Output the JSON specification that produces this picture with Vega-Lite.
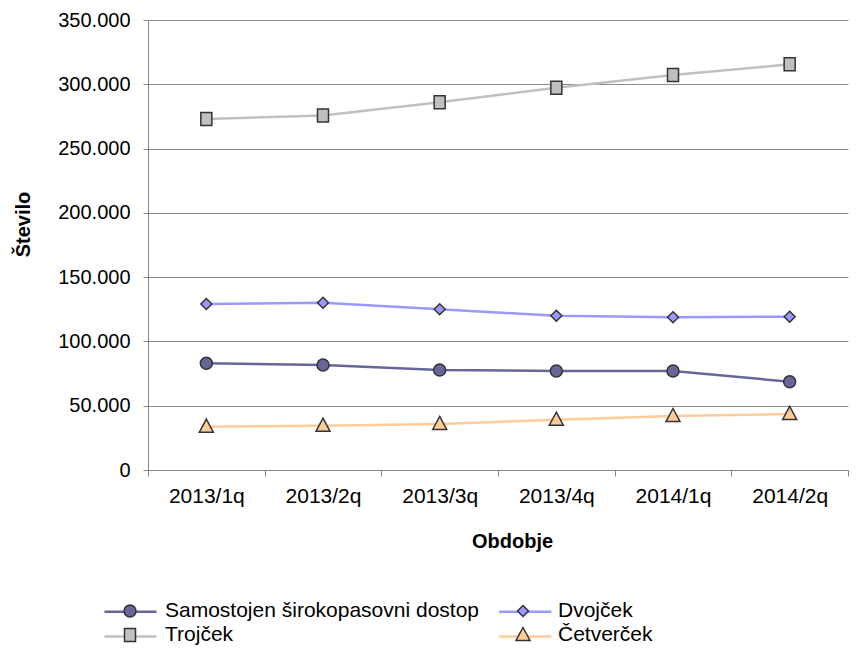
{
  "$schema": "https://vega.github.io/schema/vega-lite/v6.json",
  "width": 700,
  "height": 450,
  "autosize": "none",
  "padding": {"left": 148, "top": 20, "right": 20, "bottom": 184},
  "background": "white",
  "config": {
    "view": {"stroke": null},
    "font": "Liberation Sans",
    "axis": {
      "labelFont": "Liberation Sans",
      "titleFont": "Liberation Sans",
      "labelFontSize": 20,
      "titleFontSize": 20,
      "labelColor": "#000000",
      "titleColor": "#000000",
      "titleFontWeight": "bold",
      "domainColor": "#868686",
      "tickColor": "#868686",
      "gridColor": "#8c8c8c",
      "gridOpacity": 1
    },
    "legend": {
      "labelFont": "Liberation Sans",
      "labelFontSize": 21,
      "labelColor": "#000000",
      "labelLimit": 0
    }
  },
  "data": {
    "values": [
      {"period": "2013/1q", "series": "Samostojen širokopasovni dostop", "value": 83000},
      {"period": "2013/2q", "series": "Samostojen širokopasovni dostop", "value": 81700},
      {"period": "2013/3q", "series": "Samostojen širokopasovni dostop", "value": 77800},
      {"period": "2013/4q", "series": "Samostojen širokopasovni dostop", "value": 77000},
      {"period": "2014/1q", "series": "Samostojen širokopasovni dostop", "value": 77000},
      {"period": "2014/2q", "series": "Samostojen širokopasovni dostop", "value": 68700},
      {"period": "2013/1q", "series": "Dvojček", "value": 129100},
      {"period": "2013/2q", "series": "Dvojček", "value": 130100},
      {"period": "2013/3q", "series": "Dvojček", "value": 125000},
      {"period": "2013/4q", "series": "Dvojček", "value": 120000},
      {"period": "2014/1q", "series": "Dvojček", "value": 118800},
      {"period": "2014/2q", "series": "Dvojček", "value": 119200},
      {"period": "2013/1q", "series": "Trojček", "value": 273000},
      {"period": "2013/2q", "series": "Trojček", "value": 275800},
      {"period": "2013/3q", "series": "Trojček", "value": 286000},
      {"period": "2013/4q", "series": "Trojček", "value": 297300},
      {"period": "2014/1q", "series": "Trojček", "value": 307200},
      {"period": "2014/2q", "series": "Trojček", "value": 315500},
      {"period": "2013/1q", "series": "Četverček", "value": 33700},
      {"period": "2013/2q", "series": "Četverček", "value": 34500},
      {"period": "2013/3q", "series": "Četverček", "value": 35800},
      {"period": "2013/4q", "series": "Četverček", "value": 39100},
      {"period": "2014/1q", "series": "Četverček", "value": 42000},
      {"period": "2014/2q", "series": "Četverček", "value": 43600}
    ]
  },
  "encoding": {
    "x": {
      "field": "period",
      "type": "ordinal",
      "scale": {"type": "band", "paddingInner": 0, "paddingOuter": 0},
      "axis": {
        "title": "Obdobje",
        "tickBand": "extent",
        "grid": false,
        "labelAngle": 0,
        "labelFontSize": 21,
        "tickSize": 6,
        "labelPadding": 9,
        "titleX": 364,
        "titleY": 71,
        "titleBaseline": "middle",
        "titleAlign": "center"
      }
    },
    "y": {
      "field": "value",
      "type": "quantitative",
      "scale": {"domain": [0, 350000], "nice": false},
      "axis": {
        "title": "Število",
        "values": [0, 50000, 100000, 150000, 200000, 250000, 300000, 350000],
        "labelExpr": "replace(format(datum.value, ','), ',', '.')",
        "tickSize": 5,
        "labelPadding": 13,
        "grid": true,
        "titleAngle": -90,
        "titleX": -125,
        "titleY": 204,
        "titleBaseline": "middle",
        "titleAlign": "center"
      }
    }
  },
  "layer": [
    {
      "mark": {"type": "line", "strokeWidth": 2.5},
      "encoding": {
        "color": {
          "field": "series",
          "type": "nominal",
          "scale": {
            "domain": ["Četverček", "Trojček", "Dvojček", "Samostojen širokopasovni dostop"],
            "range": ["#FFCC99", "#C0C0C0", "#9999FF", "#666699"]
          },
          "legend": {
            "orient": "none",
            "direction": "horizontal",
            "legendX": -29,
            "legendY": 580,
            "columns": 2,
            "columnPadding": 327.75,
            "rowPadding": 3,
            "padding": 0,
            "title": null,
            "zindex": 0,
            "values": ["Samostojen širokopasovni dostop", "Dvojček", "Trojček", "Četverček"],
            "symbolType": "M-2.6,0H2.6",
            "symbolSize": 400,
            "symbolStrokeWidth": 2.5,
            "labelOffset": 24,
            "labelExpr": "''"
          }
        }
      }
    },
    {
      "mark": {"type": "point", "filled": true, "opacity": 1, "size": 400, "stroke": "#333333", "strokeWidth": 1.5},
      "encoding": {
        "fill": {
          "field": "series",
          "type": "nominal",
          "scale": {
            "domain": ["Samostojen širokopasovni dostop", "Dvojček", "Trojček", "Četverček"],
            "range": ["#666699", "#9999FF", "#C0C0C0", "#FFCC99"]
          },
          "legend": {
            "orient": "none",
            "direction": "horizontal",
            "legendX": -29,
            "legendY": 580,
            "columns": 2,
            "columnPadding": 14,
            "rowPadding": 3,
            "padding": 0,
            "title": null,
            "symbolSize": 400,
            "symbolStrokeColor": "#333333",
            "symbolStrokeWidth": 1.5,
            "symbolOpacity": 1,
            "labelOffset": 24,
            "zindex": 2,
            "encode": {
              "symbols": {
                "enter": {"stroke": {"value": "#333333"}, "strokeWidth": {"value": 1.5}},
                "update": {"stroke": {"value": "#333333"}, "strokeWidth": {"value": 1.5}, "strokeOpacity": {"value": 1}}
              }
            }
          }
        },
        "shape": {
          "field": "series",
          "type": "nominal",
          "scale": {
            "domain": ["Samostojen širokopasovni dostop", "Dvojček", "Trojček", "Četverček"],
            "range": [
              "M-2.6,0M2.6,0M0.6,0A0.6,0.6,0,1,1,-0.6,0A0.6,0.6,0,1,1,0.6,0Z",
              "M-2.6,0M2.6,0M0,-0.55L0.55,0L0,0.55L-0.55,0Z",
              "M-2.6,0M2.6,0M-0.55,-0.65H0.55V0.65H-0.55Z",
              "M-2.6,0M2.6,0M0,-0.75L0.7,0.55L-0.7,0.55Z"
            ]
          },
          "legend": {
            "orient": "none",
            "direction": "horizontal",
            "legendX": -29,
            "legendY": 580,
            "columns": 2,
            "columnPadding": 14,
            "rowPadding": 3,
            "padding": 0,
            "title": null,
            "symbolSize": 400,
            "symbolStrokeColor": "#333333",
            "symbolStrokeWidth": 1.5,
            "symbolOpacity": 1,
            "labelOffset": 24,
            "zindex": 2,
            "encode": {
              "symbols": {
                "enter": {"stroke": {"value": "#333333"}, "strokeWidth": {"value": 1.5}},
                "update": {"stroke": {"value": "#333333"}, "strokeWidth": {"value": 1.5}, "strokeOpacity": {"value": 1}}
              }
            }
          }
        }
      }
    }
  ]
}
